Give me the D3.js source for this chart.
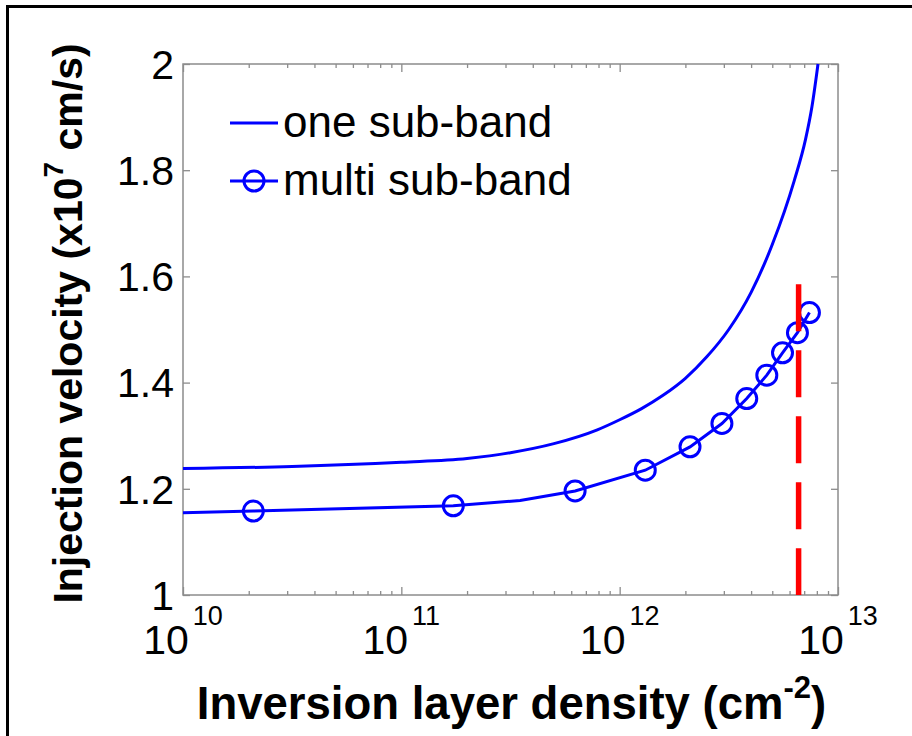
<!DOCTYPE html>
<html><head><meta charset="utf-8">
<script src="https://cdn.jsdelivr.net/npm/d3@7"></script>
<style>body{margin:0;background:#fff} svg{display:block}</style>
</head><body><svg id="c" width="912" height="736"></svg>
<script>
// ---- data ----
const oneDensity  = [1e10, 3.16e10, 1e11, 2e11, 3.16e11, 5e11, 7.9e11, 1e12, 1.26e12, 1.58e12, 2e12, 2.5e12, 3.16e12, 4e12, 5e12, 6.3e12, 7.1e12, 7.6e12, 8.1e12];
const oneVelocity = [1.238, 1.242, 1.250, 1.257, 1.268, 1.285, 1.311, 1.330, 1.351, 1.376, 1.408, 1.448, 1.500, 1.570, 1.660, 1.780, 1.858, 1.920, 2.000];

const multiDensity  = [1e10, 2.1e10, 1.73e11, 3.5e11, 6.25e11, 1.31e12, 2.1e12, 2.94e12, 3.82e12, 4.72e12, 5.57e12, 6.52e12, 7.4e12];
const multiVelocity = [1.155, 1.158, 1.168, 1.178, 1.196, 1.235, 1.279, 1.323, 1.370, 1.414, 1.456, 1.494, 1.532];

const markerDensity  = [2.1e10, 1.73e11, 6.25e11, 1.31e12, 2.1e12, 2.94e12, 3.82e12, 4.72e12, 5.57e12, 6.52e12, 7.4e12];
const markerVelocity = [1.158, 1.168, 1.196, 1.235, 1.279, 1.323, 1.370, 1.414, 1.456, 1.494, 1.532];

const cutoffDensity = 6.6e12;
const cutoffVelocity = [1.585, 1.0];

const yTicks = [1, 1.2, 1.4, 1.6, 1.8, 2];
const yTickLabels = ["1", "1.2", "1.4", "1.6", "1.8", "2"];
const xTicks = [1e10, 1e11, 1e12, 1e13];
const xTickExponents = ["10", "11", "12", "13"];

const legendLabels = ["one sub-band", "multi sub-band"];
const xTitle = ["Inversion layer density (cm", "-2", ")"];
const yTitle = ["Injection velocity (x10", "7", " cm/s)"];

// ---- layout ----
const L = 183, T = 64, R = 838, B = 595;
const FONT = "'Liberation Sans', Arial, Helvetica, sans-serif";
const BLUE = "#0000ff", RED = "#ff0000", AXIS = "#8c8c8c";

const svg = d3.select("#c");
svg.append("rect").attr("width", 912).attr("height", 736).attr("fill", "#fff");
// outer frame (left and top edges visible)
svg.append("path").attr("d", "M7.5,736 V6.5 H912")
   .attr("fill", "none").attr("stroke", "#000").attr("stroke-width", 3);

const x = d3.scaleLog().domain([1e10, 1e13]).range([L, R]);
const y = d3.scaleLinear().domain([1, 2]).range([B, T]);

// minor log ticks
const minorX = [];
for (let e = 10; e < 13; e++) for (let m = 2; m <= 9; m++) minorX.push(m * Math.pow(10, e));

function styleAxis(g) {
  g.select(".domain").remove();
  g.selectAll(".tick line").attr("stroke", AXIS).attr("stroke-width", 1.3);
  g.selectAll(".tick text").remove();
}
svg.append("g").attr("transform", `translate(0,${B})`)
  .call(d3.axisBottom(x).tickValues(xTicks).tickSize(-8).tickFormat("")).call(styleAxis);
svg.append("g").attr("transform", `translate(0,${B})`)
  .call(d3.axisBottom(x).tickValues(minorX).tickSize(-4).tickFormat("")).call(styleAxis);
svg.append("g").attr("transform", `translate(0,${T})`)
  .call(d3.axisTop(x).tickValues(xTicks).tickSize(-8).tickFormat("")).call(styleAxis);
svg.append("g").attr("transform", `translate(0,${T})`)
  .call(d3.axisTop(x).tickValues(minorX).tickSize(-4).tickFormat("")).call(styleAxis);
svg.append("g").attr("transform", `translate(${L},0)`)
  .call(d3.axisLeft(y).tickValues(yTicks).tickSize(-7).tickFormat("")).call(styleAxis);
svg.append("g").attr("transform", `translate(${R},0)`)
  .call(d3.axisRight(y).tickValues(yTicks).tickSize(-7).tickFormat("")).call(styleAxis);

// box
svg.append("rect").attr("x", L).attr("y", T).attr("width", R - L).attr("height", B - T)
  .attr("fill", "none").attr("stroke", AXIS).attr("stroke-width", 1.5);

// y tick labels
svg.append("g").selectAll("text").data(yTicks).join("text")
  .attr("x", L - 9).attr("y", d => y(d)).attr("dy", "0.36em")
  .attr("text-anchor", "end").attr("font-family", FONT).attr("font-size", 41)
  .attr("fill", "#000").text((d, i) => yTickLabels[i]);

// x tick labels
const xl = svg.append("g").selectAll("text").data(xTicks).join("text")
  .attr("x", d => x(d)).attr("y", 654).attr("text-anchor", "middle")
  .attr("font-family", FONT).attr("fill", "#000");
xl.append("tspan").attr("font-size", 41).text("10");
xl.append("tspan").attr("font-size", 27).attr("dx", 4).attr("dy", -29).text((d, i) => xTickExponents[i]);

// curves
const line1 = d3.line().x(d => x(d[0])).y(d => y(d[1])).curve(d3.curveMonotoneX);
svg.append("path").datum(oneDensity.map((d, i) => [d, oneVelocity[i]]))
  .attr("d", line1).attr("fill", "none").attr("stroke", BLUE).attr("stroke-width", 3);

const line2 = d3.line().x(d => x(d[0])).y(d => y(d[1]));
svg.append("path").datum(multiDensity.map((d, i) => [d, multiVelocity[i]]))
  .attr("d", line2).attr("fill", "none").attr("stroke", BLUE).attr("stroke-width", 3);

svg.append("g").selectAll("circle").data(markerDensity).join("circle")
  .attr("cx", d => x(d)).attr("cy", (d, i) => y(markerVelocity[i])).attr("r", 10)
  .attr("fill", "none").attr("stroke", BLUE).attr("stroke-width", 3);

// red dashed cutoff
svg.append("path").datum(cutoffVelocity.map(v => [cutoffDensity, v]))
  .attr("d", d3.line().x(d => x(d[0])).y(d => y(d[1])))
  .attr("fill", "none").attr("stroke", RED).attr("stroke-width", 5.5)
  .attr("stroke-dasharray", "47,19");

// legend
const lg = svg.append("g");
lg.append("line").attr("x1", 230).attr("x2", 278).attr("y1", 123).attr("y2", 123)
  .attr("stroke", BLUE).attr("stroke-width", 3);
lg.append("text").attr("x", 283).attr("y", 137).attr("font-family", FONT).attr("font-size", 44)
  .attr("fill", "#000").text(legendLabels[0]);
lg.append("line").attr("x1", 230).attr("x2", 278).attr("y1", 181).attr("y2", 181)
  .attr("stroke", BLUE).attr("stroke-width", 3);
lg.append("circle").attr("cx", 254).attr("cy", 181).attr("r", 10)
  .attr("fill", "none").attr("stroke", BLUE).attr("stroke-width", 3);
lg.append("text").attr("x", 283).attr("y", 195).attr("font-family", FONT).attr("font-size", 44)
  .attr("fill", "#000").text(legendLabels[1]);

// axis titles
const xt = svg.append("text").attr("x", (L + R) / 2 + 1).attr("y", 719).attr("text-anchor", "middle")
  .attr("font-family", FONT).attr("font-weight", "bold").attr("font-size", 45.5).attr("fill", "#000");
xt.append("tspan").text(xTitle[0]);
xt.append("tspan").attr("font-size", 31).attr("dy", -21).text(xTitle[1]);
xt.append("tspan").attr("dy", 21).text(xTitle[2]);

const yt = svg.append("text").attr("transform", `translate(82,${(T + B) / 2 - 6}) rotate(-90)`)
  .attr("text-anchor", "middle").attr("font-family", FONT).attr("font-weight", "bold")
  .attr("font-size", 41).attr("fill", "#000");
yt.append("tspan").text(yTitle[0]);
yt.append("tspan").attr("font-size", 28).attr("dy", -19).text(yTitle[1]);
yt.append("tspan").attr("dy", 19).text(yTitle[2]);
</script></body></html>
